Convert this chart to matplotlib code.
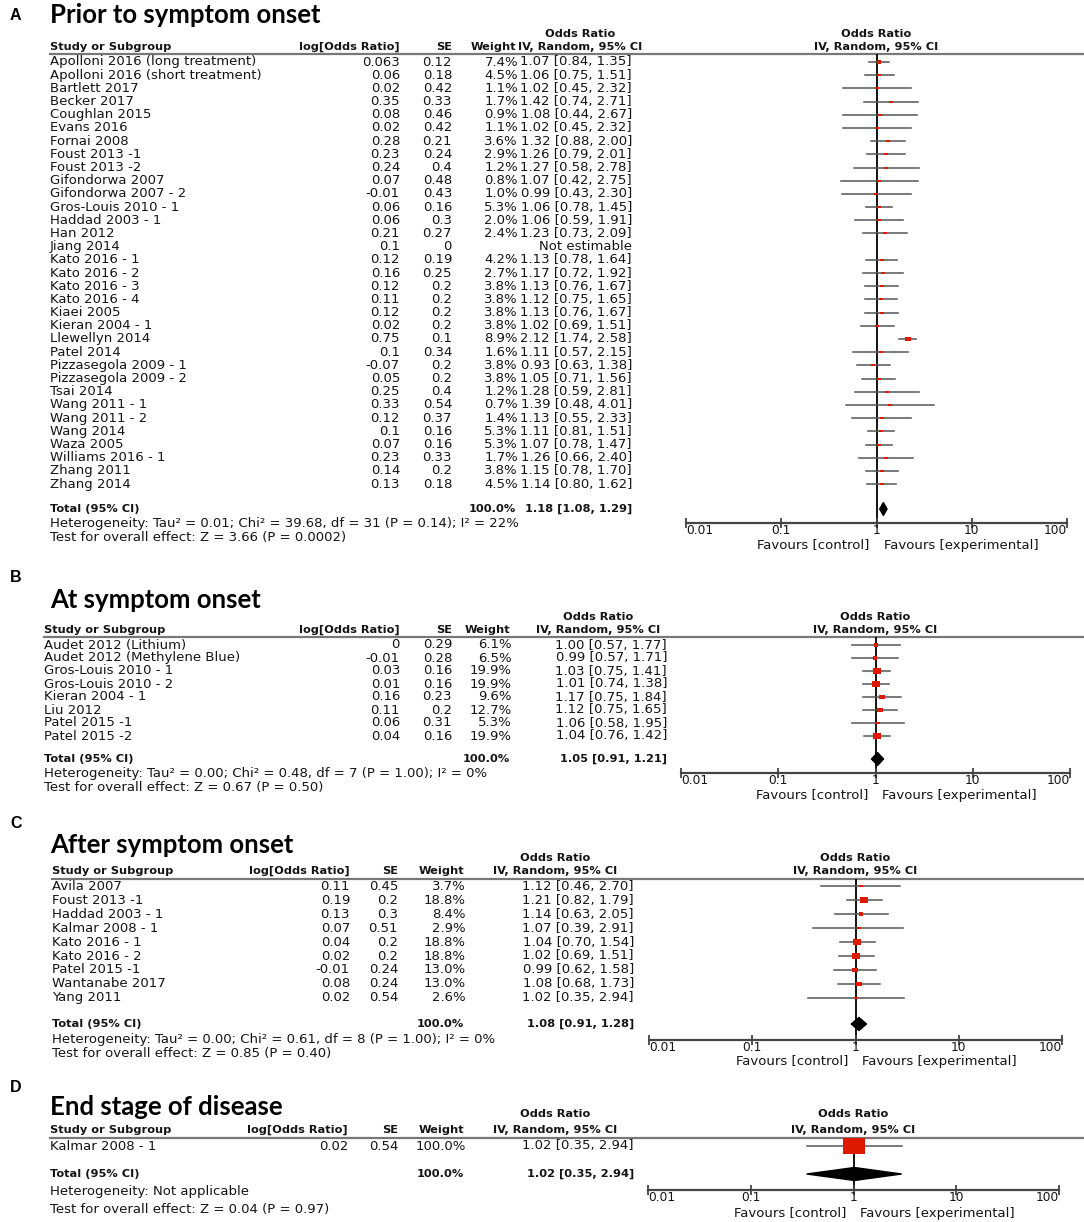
import matplotlib.pyplot as plt
from matplotlib.path import Path
from matplotlib.patches import Polygon
from matplotlib.ticker import NullLocator

W, H = 1084, 1222
TXT = 'DejaVu Sans'
FS = 9.5      # table text
FSB = 8.2     # bold headers

# ---------------- A: prior to symptom onset
a_study = ['Apolloni 2016 (long treatment)', 'Apolloni 2016 (short treatment)', 'Bartlett 2017',
           'Becker 2017', 'Coughlan 2015', 'Evans 2016', 'Fornai 2008', 'Foust 2013 -1',
           'Foust 2013 -2', 'Gifondorwa 2007', 'Gifondorwa 2007 - 2', 'Gros-Louis 2010 - 1',
           'Haddad 2003 - 1', 'Han 2012', 'Jiang 2014', 'Kato 2016 - 1', 'Kato 2016 - 2',
           'Kato 2016 - 3', 'Kato 2016 - 4', 'Kiaei 2005', 'Kieran 2004 - 1', 'Llewellyn 2014',
           'Patel 2014', 'Pizzasegola 2009 - 1', 'Pizzasegola 2009 - 2', 'Tsai 2014',
           'Wang 2011 - 1', 'Wang 2011 - 2', 'Wang 2014', 'Waza 2005', 'Williams 2016 - 1',
           'Zhang 2011', 'Zhang 2014']
a_logor = [0.063, 0.06, 0.02, 0.35, 0.08, 0.02, 0.28, 0.23, 0.24, 0.07, -0.01, 0.06, 0.06, 0.21,
           0.1, 0.12, 0.16, 0.12, 0.11, 0.12, 0.02, 0.75, 0.1, -0.07, 0.05, 0.25, 0.33, 0.12,
           0.1, 0.07, 0.23, 0.14, 0.13]
a_se = [0.12, 0.18, 0.42, 0.33, 0.46, 0.42, 0.21, 0.24, 0.4, 0.48, 0.43, 0.16, 0.3, 0.27, 0,
        0.19, 0.25, 0.2, 0.2, 0.2, 0.2, 0.1, 0.34, 0.2, 0.2, 0.4, 0.54, 0.37, 0.16, 0.16,
        0.33, 0.2, 0.18]
a_weight = [7.4, 4.5, 1.1, 1.7, 0.9, 1.1, 3.6, 2.9, 1.2, 0.8, 1.0, 5.3, 2.0, 2.4, None, 4.2,
            2.7, 3.8, 3.8, 3.8, 3.8, 8.9, 1.6, 3.8, 3.8, 1.2, 0.7, 1.4, 5.3, 5.3, 1.7, 3.8, 4.5]
a_or = [1.07, 1.06, 1.02, 1.42, 1.08, 1.02, 1.32, 1.26, 1.27, 1.07, 0.99, 1.06, 1.06, 1.23, None,
        1.13, 1.17, 1.13, 1.12, 1.13, 1.02, 2.12, 1.11, 0.93, 1.05, 1.28, 1.39, 1.13, 1.11,
        1.07, 1.26, 1.15, 1.14]
a_lo = [0.84, 0.75, 0.45, 0.74, 0.44, 0.45, 0.88, 0.79, 0.58, 0.42, 0.43, 0.78, 0.59, 0.73, None,
        0.78, 0.72, 0.76, 0.75, 0.76, 0.69, 1.74, 0.57, 0.63, 0.71, 0.59, 0.48, 0.55, 0.81,
        0.78, 0.66, 0.78, 0.80]
a_hi = [1.35, 1.51, 2.32, 2.71, 2.67, 2.32, 2.00, 2.01, 2.78, 2.75, 2.30, 1.45, 1.91, 2.09, None,
        1.64, 1.92, 1.67, 1.65, 1.67, 1.51, 2.58, 2.15, 1.38, 1.56, 2.81, 4.01, 2.33, 1.51,
        1.47, 2.40, 1.70, 1.62]
a_total = [1.18, 1.08, 1.29]
a_het = 'Heterogeneity: Tau² = 0.01; Chi² = 39.68, df = 31 (P = 0.14); I² = 22%'
a_test = 'Test for overall effect: Z = 3.66 (P = 0.0002)'

# ---------------- B: at symptom onset
b_study = ['Audet 2012 (Lithium)', 'Audet 2012 (Methylene Blue)', 'Gros-Louis 2010 - 1',
           'Gros-Louis 2010 - 2', 'Kieran 2004 - 1', 'Liu 2012', 'Patel 2015 -1', 'Patel 2015 -2']
b_logor = [0, -0.01, 0.03, 0.01, 0.16, 0.11, 0.06, 0.04]
b_se = [0.29, 0.28, 0.16, 0.16, 0.23, 0.2, 0.31, 0.16]
b_weight = [6.1, 6.5, 19.9, 19.9, 9.6, 12.7, 5.3, 19.9]
b_or = [1.00, 0.99, 1.03, 1.01, 1.17, 1.12, 1.06, 1.04]
b_lo = [0.57, 0.57, 0.75, 0.74, 0.75, 0.75, 0.58, 0.76]
b_hi = [1.77, 1.71, 1.41, 1.38, 1.84, 1.65, 1.95, 1.42]
b_total = [1.05, 0.91, 1.21]
b_het = 'Heterogeneity: Tau² = 0.00; Chi² = 0.48, df = 7 (P = 1.00); I² = 0%'
b_test = 'Test for overall effect: Z = 0.67 (P = 0.50)'

# ---------------- C: after symptom onset
c_study = ['Avila 2007', 'Foust 2013 -1', 'Haddad 2003 - 1', 'Kalmar 2008 - 1', 'Kato 2016 - 1',
           'Kato 2016 - 2', 'Patel 2015 -1', 'Wantanabe 2017', 'Yang 2011']
c_logor = [0.11, 0.19, 0.13, 0.07, 0.04, 0.02, -0.01, 0.08, 0.02]
c_se = [0.45, 0.2, 0.3, 0.51, 0.2, 0.2, 0.24, 0.24, 0.54]
c_weight = [3.7, 18.8, 8.4, 2.9, 18.8, 18.8, 13.0, 13.0, 2.6]
c_or = [1.12, 1.21, 1.14, 1.07, 1.04, 1.02, 0.99, 1.08, 1.02]
c_lo = [0.46, 0.82, 0.63, 0.39, 0.70, 0.69, 0.62, 0.68, 0.35]
c_hi = [2.70, 1.79, 2.05, 2.91, 1.54, 1.51, 1.58, 1.73, 2.94]
c_total = [1.08, 0.91, 1.28]
c_het = 'Heterogeneity: Tau² = 0.00; Chi² = 0.61, df = 8 (P = 1.00); I² = 0%'
c_test = 'Test for overall effect: Z = 0.85 (P = 0.40)'

# ---------------- D: end stage of disease
d_study = ['Kalmar 2008 - 1']
d_logor = [0.02]
d_se = [0.54]
d_weight = [100.0]
d_or = [1.02]
d_lo = [0.35]
d_hi = [2.94]
d_total = [1.02, 0.35, 2.94]
d_het = 'Heterogeneity: Not applicable'
d_test = 'Test for overall effect: Z = 0.04 (P = 0.97)'

ticks = [0.01, 0.1, 1, 10, 100]
tick_labels = ['0.01', '0.1', '1', '10', '100']

fig = plt.figure(figsize=(W / 100, H / 100), dpi=100)
base = fig.add_axes([0, 0, 1, 1])
base.set_xlim(0, W)
base.set_ylim(H, 0)
base.axis('off')

# rectangle marker (the figure is a bit stretched sideways)
rect = Path([(-1.35, -1), (1.35, -1), (1.35, 1), (-1.35, 1), (-1.35, -1)],
            [Path.MOVETO, Path.LINETO, Path.LINETO, Path.LINETO, Path.CLOSEPOLY])


def t(x, y, s, ha='left', bold=False, **kw):
    base.text(x, y, s, ha=ha, va='center', fontsize=FSB if bold else FS, family=TXT,
              fontweight='bold' if bold else 'normal', color='#141414', **kw)


def panel(letter, title, study, logor, se, weight, orr, lo, hi, total, het, test, L):
    base.text(10, L['ly'], letter, fontsize=11.5, fontweight='bold', family='Liberation Sans',
              va='center', ha='left')
    base.text(50, L['ty'], title, fontsize=18.5, fontweight='bold', family='Lato',
              va='center', ha='left')
    # table header
    t(L['cic'], L['ory'], 'Odds Ratio', ha='center', bold=True)
    t(L['x0'], L['hy'], 'Study or Subgroup', bold=True)
    t(L['lor'], L['hy'], 'log[Odds Ratio]', ha='right', bold=True)
    t(L['se'], L['hy'], 'SE', ha='right', bold=True)
    t(L['w'] - 2, L['hy'], 'Weight', ha='right', bold=True)
    t(L['cic'], L['hy'], 'IV, Random, 95% CI', ha='center', bold=True)
    base.plot([L['x0'], W], [L['ry'], L['ry']], color='#777777', lw=1.6)

    # forest axes drawn in the same pixel rows
    ax = fig.add_axes([L['fx0'] / W, 1 - L['axy'] / H, (L['fx1'] - L['fx0']) / W,
                       (L['axy'] - L['ry']) / H])
    ax.set_xscale('log')
    ax.set_xlim(0.01, 100)
    ax.set_ylim(L['axy'], L['ry'])
    ax.patch.set_alpha(0)
    for s in ['top', 'left', 'right']:
        ax.spines[s].set_visible(False)
    ax.spines['bottom'].set_linewidth(1.6)
    ax.spines['bottom'].set_color('#444444')
    ax.set_xticks(ticks)
    ax.set_xticklabels(tick_labels, family=TXT)
    ax.xaxis.set_minor_locator(NullLocator())
    ax.tick_params(axis='x', direction='inout', length=7, width=1.3, color='#444444',
                   labelsize=8.8, pad=-2.5, labelcolor='#141414')
    lbls = ax.get_xticklabels()
    lbls[0].set_ha('left')
    lbls[-1].set_ha('right')
    ax.set_yticks([])
    ax.axvline(1, color='black', lw=1.3, zorder=1)

    mid = L['fx0'] + (L['fx1'] - L['fx0']) / 2
    t(mid, L['ory'], 'Odds Ratio', ha='center', bold=True)
    t(mid, L['hy'], 'IV, Random, 95% CI', ha='center', bold=True)
    t(mid - 7, L['favy'], 'Favours [control]', ha='right')
    t(mid + 7, L['favy'], 'Favours [experimental]', ha='left')

    for i in range(len(study)):
        y = L['row0'] + i * L['dy']
        t(L['x0'], y, study[i])
        t(L['lor'], y, f'{logor[i]:g}', ha='right')
        t(L['se'], y, f'{se[i]:g}', ha='right')
        if weight[i] is None:
            t(L['ci'], y, 'Not estimable', ha='right')
            continue
        t(L['w'], y, f'{weight[i]:.1f}%', ha='right')
        t(L['ci'], y, f'{orr[i]:.2f} [{lo[i]:.2f}, {hi[i]:.2f}]', ha='right')
        ax.plot([lo[i], hi[i]], [y, y], color='#555555', lw=1.1, zorder=2, clip_on=False)
        size = max(3.0, 22 * (weight[i] / 100) ** 0.6) * 0.72
        ax.plot(orr[i], y, marker=rect, ms=size, color='#dd1a00', mec='#dd1a00',
                mew=0, zorder=3, clip_on=False)

    ty = L['toty']
    t(L['x0'], ty, 'Total (95% CI)', bold=True)
    t(L['w'] - 2, ty, '100.0%', ha='right', bold=True)
    t(L['ci'], ty, f'{total[0]:.2f} [{total[1]:.2f}, {total[2]:.2f}]', ha='right', bold=True)
    ax.add_patch(Polygon([(total[1], ty), (total[0], ty - 6.5), (total[2], ty),
                          (total[0], ty + 6.5)], closed=True, color='black', zorder=4,
                         clip_on=False))
    t(L['x0'], L['hety'], het)
    t(L['x0'], L['testy'], test)


panel('A', 'Prior to symptom onset', a_study, a_logor, a_se, a_weight, a_or, a_lo, a_hi,
      a_total, a_het, a_test,
      dict(ly=15, ty=15, ory=34, hy=47, ry=54, x0=50, lor=400, se=452, w=518, ci=632, cic=580,
           row0=62, dy=13.19, toty=509, hety=523, testy=537, fx0=686, fx1=1067, axy=523,
           favy=545))
panel('B', 'At symptom onset', b_study, b_logor, b_se, b_weight, b_or, b_lo, b_hi,
      b_total, b_het, b_test,
      dict(ly=577, ty=600, ory=617, hy=630, ry=637, x0=44, lor=400, se=452, w=512, ci=667,
           cic=598, row0=645, dy=13, toty=759, hety=773, testy=787, fx0=681, fx1=1070,
           axy=773, favy=795))
panel('C', 'After symptom onset', c_study, c_logor, c_se, c_weight, c_or, c_lo, c_hi,
      c_total, c_het, c_test,
      dict(ly=823, ty=845, ory=858, hy=871, ry=879, x0=52, lor=350, se=398, w=466, ci=634,
           cic=555, row0=886.5, dy=13.9, toty=1024, hety=1040, testy=1054, fx0=649,
           fx1=1062, axy=1040, favy=1061))
panel('D', 'End stage of disease', d_study, d_logor, d_se, d_weight, d_or, d_lo, d_hi,
      d_total, d_het, d_test,
      dict(ly=1088, ty=1107, ory=1114, hy=1130, ry=1138, x0=50, lor=348, se=398, w=466,
           ci=634, cic=555, row0=1146, dy=14, toty=1174, hety=1192, testy=1210, fx0=648,
           fx1=1059, axy=1190, favy=1213))

fig.savefig('out.png', dpi=100)
